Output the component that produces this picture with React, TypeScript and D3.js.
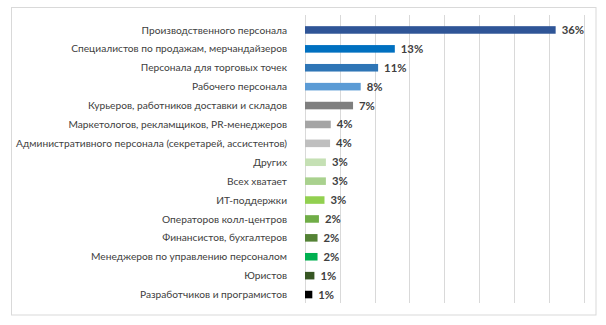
import React from "react";
import * as d3 from "d3";

const categories = [
  "Производственного персонала",
  "Специалистов по продажам, мерчандайзеров",
  "Персонала для торговых точек",
  "Рабочего персонала",
  "Курьеров, работников доставки и складов",
  "Маркетологов, рекламщиков, PR-менеджеров",
  "Административного персонала (секретарей, ассистентов)",
  "Других",
  "Всех хватает",
  "ИТ-поддержки",
  "Операторов колл-центров",
  "Финансистов, бухгалтеров",
  "Менеджеров по управлению персоналом",
  "Юристов",
  "Разработчиков и програмистов",
];
const values = [36, 12.9, 10.5, 8.0, 6.9, 3.7, 3.6, 3.0, 3.0, 2.8, 2.0, 1.8, 1.8, 1.35, 1.05];
const valueLabels = ["36%", "13%", "11%", "8%", "7%", "4%", "4%", "3%", "3%", "3%", "2%", "2%", "2%", "1%", "1%"];
const colors = [
  "#2f5597", "#0070c0", "#2e75b6", "#5b9bd5", "#7f7f7f", "#a5a5a5", "#bfbfbf",
  "#c5e0b4", "#a9d18e", "#92d050", "#70ad47", "#548235", "#00b050", "#375623", "#000000",
];
const gridTicks = [0, 5, 10, 15, 20, 25, 30, 35, 40];

export default function App() {
  const W = 606, H = 325;
  const x = d3.scaleLinear().domain([0, 40]).range([305, 583.5]);
  const y = d3.scaleBand<string>().domain(categories).range([20.5, 304]).paddingInner(0.6).paddingOuter(0.3);
  const font = "Lato, 'Open Sans', sans-serif";
  return (
    <svg width={W} height={H} style={{ position: "absolute", left: 0, top: 0, background: "#fff" }}>
      <rect x={11.5} y={7.5} width={584.5} height={307.5} fill="#fff" stroke="#d9d9d9" strokeWidth={1} />
      {gridTicks.map((t) => (
        <line key={t} x1={Math.round(x(t)) + 0.5} x2={Math.round(x(t)) + 0.5} y1={15} y2={303} stroke="#d9d9d9" strokeWidth={1} />
      ))}
      {categories.map((c, i) => {
        const cy = (y(c) as number) + y.bandwidth() / 2;
        return (
          <g key={c}>
            <rect x={x(0)} y={y(c)} width={x(values[i]) - x(0)} height={y.bandwidth()} fill={colors[i]} />
            <text x={287} y={cy} dy="0.35em" textAnchor="end" fontFamily={font} fontSize={10.2} fill="#404040">
              {c}
            </text>
            <text x={x(values[i]) + 6} y={cy} dy="0.35em" fontFamily={font} fontSize={11.3} fontWeight="bold" fill="#404040">
              {valueLabels[i]}
            </text>
          </g>
        );
      })}
    </svg>
  );
}
